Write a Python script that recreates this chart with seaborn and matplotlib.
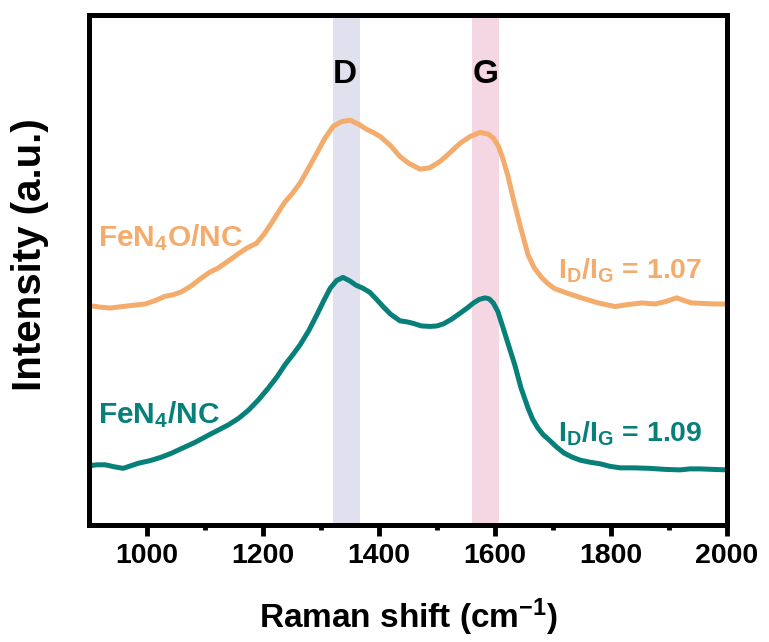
import numpy as np
import matplotlib
matplotlib.use("Agg")
import matplotlib.pyplot as plt
import seaborn as sns

# Raman spectra (x in cm-1, intensity in a.u.)
shift_fen4o = [900, 918, 936, 965, 997, 1015, 1031, 1045, 1060, 1077, 1094, 1108, 1122,
               1140, 1157, 1173, 1189, 1202, 1215, 1226, 1238, 1251, 1264, 1278, 1293,
               1307, 1321, 1335, 1350, 1365, 1379, 1390, 1402, 1420, 1436, 1452, 1471,
               1488, 1505, 1522, 1540, 1557, 1574, 1588, 1597, 1606, 1614, 1622, 1632,
               1643, 1657, 1668, 1681, 1692, 1703, 1725, 1749, 1778, 1807, 1830, 1853,
               1876, 1895, 1913, 1925, 1939, 1960, 1979, 2000]
int_fen4o = [43.0, 42.7, 42.5, 42.9, 43.3, 44.0, 44.8, 45.1, 45.7, 46.9, 48.4, 49.5, 50.3,
             51.7, 53.1, 54.3, 55.2, 57.0, 59.2, 61.2, 63.3, 65.0, 67.0, 69.8, 72.9,
             75.8, 78.1, 79.0, 79.3, 78.5, 77.5, 76.9, 76.1, 74.3, 72.2, 70.8, 69.7,
             70.0, 71.2, 72.9, 74.8, 76.1, 76.9, 76.6, 75.8, 74.2, 71.6, 68.5, 63.7,
             58.8, 52.9, 50.3, 48.4, 47.2, 46.3, 45.4, 44.5, 43.5, 42.8, 43.2, 43.5,
             43.3, 43.8, 44.5, 44.0, 43.5, 43.4, 43.3, 43.3]

shift_fen4 = [900, 914, 928, 944, 959, 972, 985, 1005, 1025, 1043, 1060, 1083, 1106, 1123,
              1140, 1158, 1175, 1192, 1209, 1224, 1238, 1251, 1264, 1279, 1293, 1305,
              1316, 1327, 1338, 1350, 1360, 1372, 1384, 1395, 1407, 1420, 1436, 1448,
              1459, 1473, 1488, 1500, 1511, 1525, 1540, 1552, 1563, 1573, 1583, 1590,
              1597, 1605, 1614, 1624, 1634, 1645, 1657, 1665, 1674, 1683, 1693, 1706,
              1719, 1733, 1747, 1764, 1781, 1798, 1816, 1840, 1867, 1893, 1919, 1936,
              1953, 1975, 2000]
int_fen4 = [11.6, 11.8, 11.8, 11.4, 11.1, 11.6, 12.1, 12.6, 13.3, 14.1, 15.0, 16.2, 17.6, 18.6,
            19.6, 20.9, 22.5, 24.5, 26.8, 29.0, 31.4, 33.3, 35.3, 38.1, 41.2, 44.0,
            46.4, 47.9, 48.5, 47.8, 47.0, 46.4, 45.6, 44.3, 42.8, 41.3, 40.0, 39.8,
            39.5, 39.0, 38.9, 39.0, 39.4, 40.3, 41.5, 42.5, 43.5, 44.2, 44.5, 44.3,
            43.5, 41.8, 38.6, 35.0, 31.4, 26.8, 22.9, 20.7, 19.0, 17.7, 16.7, 15.3,
            14.1, 13.3, 12.7, 12.3, 12.0, 11.5, 11.2, 11.2, 11.1, 10.9, 10.8, 11.0,
            11.0, 10.9, 10.8]

d_band = (1321, 1368)
g_band = (1560, 1607)
ratio_fen4o = 1.07
ratio_fen4 = 1.09

orange = "#F4AC6C"
teal = "#07807A"

sns.set_style("ticks")
plt.rcParams['font.family'] = ['Liberation Sans', 'DejaVu Sans']
plt.rcParams['font.weight'] = 'bold'
plt.rcParams['text.color'] = 'black'
plt.rcParams['axes.labelcolor'] = 'black'
plt.rcParams['xtick.color'] = 'black'
plt.rcParams['mathtext.fontset'] = 'custom'
plt.rcParams['mathtext.rm'] = 'Liberation Sans:bold'
plt.rcParams['mathtext.it'] = 'Liberation Sans:bold'
plt.rcParams['mathtext.bf'] = 'Liberation Sans:bold'

fig = plt.figure(figsize=(7.69, 6.42), dpi=100)
ax = fig.add_axes([0.1157, 0.1822, 0.8297, 0.7952])

ax.axvspan(*d_band, color="#E1E0EE", lw=0, zorder=0)
ax.axvspan(*g_band, color="#F5D7E4", lw=0, zorder=0)

line_kw = dict(linewidth=3.6, sort=False, solid_joinstyle='round', solid_capstyle='round')
sns.lineplot(x=shift_fen4o, y=int_fen4o, ax=ax, color=orange, **line_kw)
sns.lineplot(x=shift_fen4, y=int_fen4, ax=ax, color=teal, **line_kw)

ax.text(1341, 88.2, 'D', fontsize=24, fontweight='bold', ha='center', va='center')
ax.text(1584, 88.2, 'G', fontsize=24, fontweight='bold', ha='center', va='center')

ax.text(915, 54.6, r'FeN$_4$O/NC', fontsize=21.5, color=orange, ha='left', va='baseline')
ax.text(915, 20.0, r'FeN$_4$/NC', fontsize=21.5, color=teal, ha='left', va='baseline')
ax.text(1709, 48.2, r'I$_D$/I$_G$ = %.2f' % ratio_fen4o, fontsize=20.5, color=orange,
        ha='left', va='baseline')
ax.text(1709, 16.3, r'I$_D$/I$_G$ = %.2f' % ratio_fen4, fontsize=20.5, color=teal,
        ha='left', va='baseline')

ax.set_xlim(900, 2000)
ax.set_ylim(0, 100)
ax.set_xticks([1000, 1200, 1400, 1600, 1800, 2000])
ax.set_xticks([1100, 1300, 1500, 1700, 1900], minor=True)
ax.set_yticks([])
ax.tick_params(axis='x', which='major', direction='out', length=8, width=3.5,
               labelsize=20.5, pad=5)
ax.tick_params(axis='x', which='minor', direction='out', length=3.5, width=3.5)
for lbl in ax.get_xticklabels():
    lbl.set_fontweight('bold')
for sp in ax.spines.values():
    sp.set_linewidth(3.6)
    sp.set_color('black')

ax.set_xlabel(r'Raman shift (cm$^{-1}$)', fontsize=24, fontweight='bold', labelpad=20)
ax.set_ylabel('Intensity (a.u.)', fontsize=29, fontweight='bold')
ax.yaxis.set_label_coords(-0.062, 0.53)

fig.savefig('out.png', dpi=100)
